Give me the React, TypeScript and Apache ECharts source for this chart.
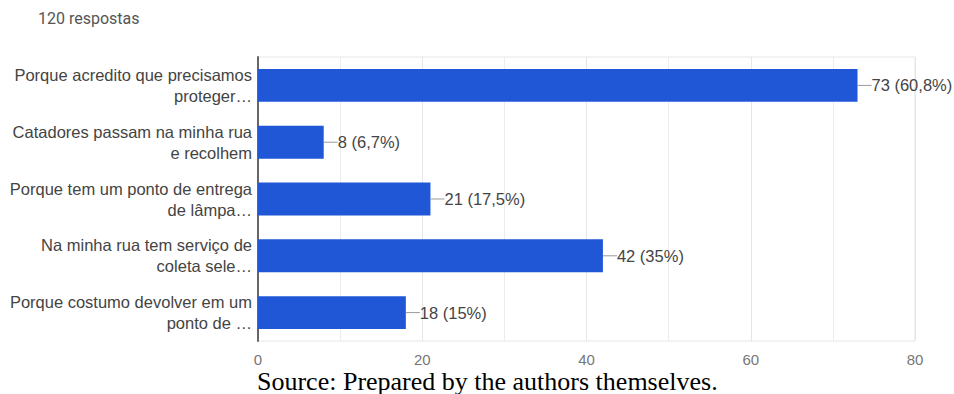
import React, { useEffect, useRef } from "react";
import * as echarts from "echarts";

// Answers (top to bottom) with their counts and shares of 120 responses
const categories = [
  "Porque acredito que precisamos\nproteger…",
  "Catadores passam na minha rua\ne recolhem",
  "Porque tem um ponto de entrega\nde lâmpa…",
  "Na minha rua tem serviço de\ncoleta sele…",
  "Porque costumo devolver em um\nponto de …",
];
const counts = [73, 8, 21, 42, 18];
const shares = ["60,8%", "6,7%", "17,5%", "35%", "15%"];
const xTicks = [0, 20, 40, 60, 80];

const BAR = "#1f57d6";
const SANS = "'Liberation Sans', Arial, sans-serif";

export default function App() {
  const ref = useRef<HTMLDivElement>(null);

  useEffect(() => {
    document.body.style.margin = "0";
    if (!ref.current) return;
    const chart = echarts.init(ref.current, null, { renderer: "svg" });
    chart.setOption({
      animation: false,
      backgroundColor: "#ffffff",
      textStyle: { fontFamily: SANS },
      grid: {
        left: 258,
        right: 39,
        top: 57,
        bottom: 53,
        show: true,
        borderColor: "#e6e6e6",
        borderWidth: 1,
      },
      xAxis: {
        type: "value",
        min: xTicks[0],
        max: xTicks[xTicks.length - 1],
        interval: 20,
        axisLine: { show: false },
        axisTick: { show: false },
        axisLabel: { color: "#777", fontSize: 15, margin: 11, fontFamily: SANS },
        splitLine: { show: true, lineStyle: { color: "#e6e6e6", width: 1 } },
        minorTick: { show: false, splitNumber: 2 },
        minorSplitLine: { show: true, lineStyle: { color: "#ececec", width: 1 } },
      },
      yAxis: {
        type: "category",
        inverse: true,
        data: categories,
        axisLine: { show: true, lineStyle: { color: "#666", width: 2 } },
        axisTick: { show: false },
        axisLabel: {
          color: "#444",
          fontSize: 16.5,
          lineHeight: 21,
          margin: 6,
          align: "right",
          fontFamily: SANS,
        },
        splitLine: { show: false },
      },
      series: [
        {
          type: "bar",
          data: counts,
          barWidth: "58%",
          itemStyle: { color: BAR },
          label: {
            show: true,
            position: "right",
            distance: 0,
            formatter: (p: any) =>
              `{lead|}{val|${counts[p.dataIndex]} (${shares[p.dataIndex]})}`,
            rich: {
              lead: {
                width: 14,
                height: 1,
                backgroundColor: "#999",
              },
              val: {
                color: "#444",
                fontSize: 16.5,
                fontFamily: SANS,
              },
            },
          },
        },
      ],
      graphic: [
        {
          type: "text",
          left: 38,
          top: 10,
          style: {
            text: "120 respostas",
            fill: "#555",
            font: "16px Roboto, Arial, sans-serif",
          },
        },
        {
          type: "text",
          left: 257,
          top: 368,
          style: {
            text: "Source: Prepared by the authors themselves.",
            fill: "#000",
            font: "26px 'Liberation Serif', 'Times New Roman', serif",
          },
        },
      ],
    });
    return () => chart.dispose();
  }, []);

  return <div ref={ref} style={{ width: 954, height: 394 }} />;
}
